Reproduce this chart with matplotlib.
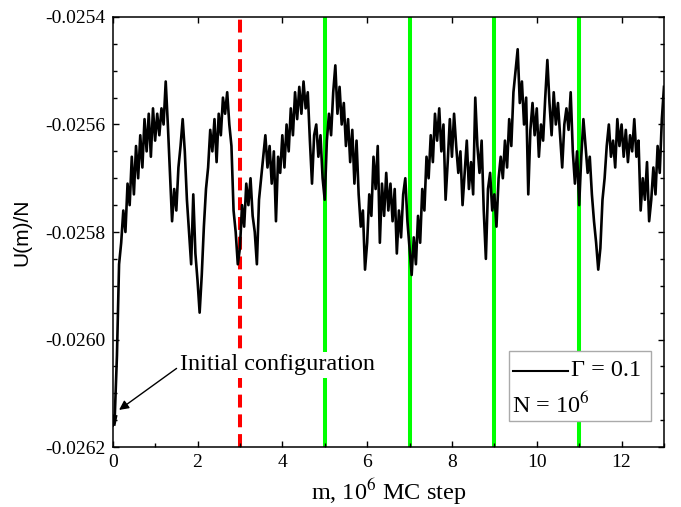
import numpy as np
import matplotlib
matplotlib.use("Agg")
import matplotlib.pyplot as plt
from matplotlib.ticker import MultipleLocator, FormatStrFormatter
from matplotlib.patches import Rectangle
from matplotlib.lines import Line2D

plt.rcParams['font.family'] = ['Liberation Serif', 'DejaVu Serif']
plt.rcParams['mathtext.fontset'] = 'stix'
plt.rcParams['axes.unicode_minus'] = False

# U(m)/N in units of 1e-4, sampled every 0.05 (x 10^6 MC steps) from 0 to 13
u_e4 = [
    -261.6, -261.4, -260.3, -258.6, -258.2, -257.6, -258.0, -257.1, -257.5, -256.6,
    -257.3, -256.4, -257.0, -256.2, -256.8, -255.9, -256.5, -255.8, -256.6, -255.7,
    -256.3, -255.8, -256.2, -255.7, -256.0, -255.2, -256.0, -256.9, -257.8, -257.2,
    -257.6, -256.8, -256.4, -255.9, -256.5, -257.4, -258.0, -258.6, -257.3, -258.4,
    -258.9, -259.5, -258.8, -257.9, -257.2, -256.8, -256.1, -256.5, -255.9, -256.7,
    -255.8, -256.2, -255.5, -255.8, -255.4, -256.0, -256.4, -257.6, -258.0, -258.6,
    -258.3, -257.5, -257.9, -257.1, -257.5, -257.0, -257.7, -258.0, -258.6, -257.4,
    -257.0, -256.6, -256.2, -256.8, -256.4, -257.1, -256.5, -257.8, -256.6, -256.9,
    -256.2, -256.8, -256.0, -256.5, -255.7, -256.2, -255.4, -255.9, -255.3, -255.8,
    -255.2, -255.7, -255.4, -256.3, -257.1, -256.2, -256.0, -256.6, -256.2, -257.0,
    -257.4, -256.3, -255.8, -256.2, -255.4, -254.9, -255.8, -255.3, -256.0, -255.6,
    -256.4, -255.9, -256.7, -256.1, -257.1, -256.3, -257.3, -257.9, -257.6, -258.7,
    -258.2, -257.3, -257.7, -256.6, -257.2, -256.4, -258.2, -257.1, -257.7, -256.9,
    -257.6, -257.1, -257.8, -257.2, -258.4, -257.6, -258.1, -257.3, -257.0, -257.8,
    -258.3, -258.8, -258.1, -258.6, -257.7, -258.2, -257.2, -257.6, -256.6, -257.0,
    -256.2, -256.7, -255.8, -256.3, -255.7, -256.5, -256.0, -257.4, -256.7, -255.9,
    -256.6, -255.8, -256.4, -256.9, -256.5, -257.5, -256.9, -256.3, -257.2, -256.7,
    -257.3, -255.5, -256.4, -256.9, -256.3, -257.6, -258.5, -257.2, -256.9, -257.6,
    -257.3, -257.9, -257.0, -256.6, -257.0, -256.3, -256.8, -255.9, -256.4, -255.4,
    -255.0, -254.6, -255.6, -255.2, -256.0, -255.5, -257.3, -256.1, -255.6, -256.2,
    -255.7, -256.6, -256.0, -256.3, -255.5, -254.8, -255.6, -256.2, -255.4, -256.0,
    -255.6, -256.2, -256.8, -256.0, -255.7, -256.1, -255.4, -256.5, -257.1, -256.5,
    -257.5, -256.6, -255.9, -256.4, -256.9, -256.6, -257.3, -257.8, -258.2, -258.7,
    -258.3, -257.4, -257.0, -256.4, -256.0, -256.6, -256.3, -256.8, -255.9, -256.4,
    -256.0, -256.6, -256.1, -256.7, -256.2, -256.5, -255.9, -256.6, -256.3, -257.6,
    -257.0, -257.4, -256.7, -257.8, -257.4, -256.8, -257.3, -256.4, -256.9, -255.9,
    -255.3,
]
u = np.array(u_e4) * 1e-4
m = np.linspace(0, 13, len(u))

red_line = 3
green_lines = [5, 7, 9, 11]

fig = plt.figure(figsize=(6.81, 5.07), dpi=100)
ax = fig.add_axes([0.1655, 0.1183, 0.8095, 0.8482])

for xg in green_lines:
    ax.axvline(xg, color='#00ff00', lw=2.9, zorder=1)
ax.axvline(red_line, color='#ff0000', lw=2.9, dashes=(3.2, 1.7), zorder=1)

ax.plot(m, u, color='black', lw=1.9, zorder=3)
# initial configuration block
ax.plot(m[:2], u[:2], color='black', lw=4, solid_capstyle='butt', zorder=3)

ax.set_xlim(0, 13)
ax.set_ylim(-0.0262, -0.0254)
ax.xaxis.set_major_locator(MultipleLocator(2))
ax.xaxis.set_minor_locator(MultipleLocator(1))
ax.yaxis.set_major_locator(MultipleLocator(0.0002))
ax.yaxis.set_minor_locator(MultipleLocator(0.00005))
ax.yaxis.set_major_formatter(FormatStrFormatter('%.4f'))
ax.tick_params(which='major', direction='in', length=4, width=1.0,
               top=True, right=True, labelsize=14, pad=5)
ax.tick_params(which='minor', direction='in', length=3, width=1.0,
               top=False, right=True)
for s in ax.spines.values():
    s.set_linewidth(1.1)

ax.set_xlabel('m, 10$^6$ MC step', fontsize=17.5, labelpad=4)
ax.set_ylabel('U(m)/N', fontsize=15, family=['Liberation Sans', 'DejaVu Sans'])
ax.yaxis.set_label_coords(-0.148, 0.5)

ax.annotate('Initial configuration', xy=(0.15, -0.026131), xytext=(1.59, -0.026047),
            fontsize=17.5, va='center', ha='left',
            bbox=dict(boxstyle='square,pad=0.1', fc='white', ec='none'),
            arrowprops=dict(arrowstyle='-|>', color='black', lw=1.0,
                            mutation_scale=14, shrinkA=1, shrinkB=0,
                            relpos=(0.0, 0.45)),
            zorder=4)

# legend box drawn by hand
ax.add_patch(Rectangle((0.719, 0.060), 0.257, 0.164, transform=ax.transAxes,
                       fc='white', ec='#aaaaaa', lw=1.0, zorder=5))
ax.add_line(Line2D([0.7256, 0.826], [0.177, 0.177], transform=ax.transAxes,
                   color='black', lw=1.5, zorder=6))
ax.text(0.831, 0.177, 'Γ = 0.1', transform=ax.transAxes, fontsize=17.5,
        va='center', ha='left', zorder=6)
ax.text(0.724, 0.098, 'N = 10$^6$', transform=ax.transAxes, fontsize=17.5,
        va='center', ha='left', zorder=6)

fig.savefig('out.png', dpi=100)
